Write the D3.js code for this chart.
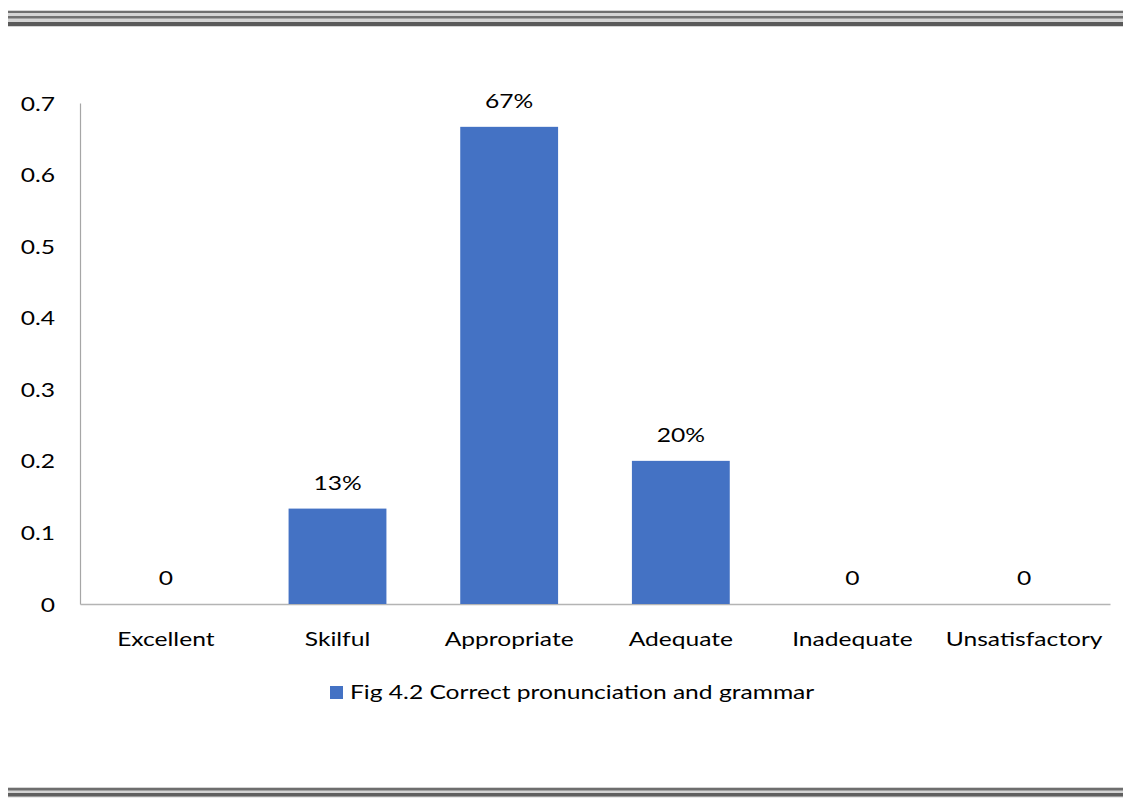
<!DOCTYPE html>
<html>
<head>
<meta charset="utf-8">
<script src="https://cdn.jsdelivr.net/npm/d3@7"></script>
<style>
  html, body { margin: 0; padding: 0; background: #fff; }
  svg { display: block; }
  text { font-family: Lato, "Open Sans", sans-serif; fill: #000; }
</style>
</head>
<body>
<svg id="chart" width="1123" height="799"></svg>
<script>
// Rating categories and the share of responses in each
const categories = ["Excellent", "Skilful", "Appropriate", "Adequate", "Inadequate", "Unsatisfactory"];
const shares = [0, 0.1333, 0.6667, 0.2, 0, 0];
const valueLabels = ["0", "13%", "67%", "20%", "0", "0"];
const yTicks = [0, 0.1, 0.2, 0.3, 0.4, 0.5, 0.6, 0.7];
const seriesName = "Fig 4.2 Correct pronunciation and grammar";

const svg = d3.select("#chart");
const W = 1123;
const FONT = "20px";
const STRETCH = 1.23; // horizontal widening of the text face

// Widen text horizontally about its own x anchor
function widen(sel) {
  sel.each(function () {
    const t = d3.select(this);
    const x0 = +t.attr("x") || 0;
    t.attr("transform", `translate(${x0},0) scale(${STRETCH},1) translate(${-x0},0)`);
  });
}

// Decorative page rules above and below the chart
function pageRule(y0, stripes) {
  const g = svg.append("g");
  const last = stripes[stripes.length - 1];
  g.append("rect").attr("x", 8).attr("y", y0).attr("width", W - 8)
    .attr("height", last[0] + last[1] - y0 + 1)
    .attr("fill", "#d4d4d4");
  stripes.forEach(([y, h, c]) => {
    g.append("rect").attr("x", 8).attr("y", y).attr("width", W - 8).attr("height", h).attr("fill", c);
  });
}
pageRule(10, [[11, 2, "#6e6e6e"], [16, 2.5, "#707070"], [22, 4, "#5a5a5a"]]);
pageRule(787, [[788, 2.5, "#6e6e6e"], [793, 3.5, "#606060"]]);

// Plot area
const margin = { left: 80, right: 1110, top: 103, bottom: 604 };
const x = d3.scaleBand().domain(categories).range([margin.left, margin.right])
  .paddingInner(0.43).paddingOuter(0.215);
const y = d3.scaleLinear().domain([0, 0.7]).range([margin.bottom, margin.top]);

// Y axis
const yAxis = svg.append("g").attr("transform", `translate(${margin.left},0)`)
  .call(d3.axisLeft(y).tickValues(yTicks).tickSize(0).tickPadding(25)
    .tickFormat(d => d === 0 ? "0" : d3.format(".1f")(d)));
yAxis.select(".domain").attr("stroke", "#a6a6a6").attr("stroke-width", 1.2);
yAxis.selectAll("text").style("font-size", FONT).attr("dy", "0.35em").call(widen);

// X axis
const xAxis = svg.append("g").attr("transform", `translate(0,${margin.bottom})`)
  .call(d3.axisBottom(x).tickSize(0).tickPadding(28));
xAxis.select(".domain").attr("stroke", "#b4b4b4").attr("stroke-width", 1.5);
xAxis.selectAll("text").style("font-size", FONT).call(widen);

// Bars
const data = categories.map((c, i) => ({ c, v: shares[i], label: valueLabels[i] }));
svg.append("g").selectAll("rect").data(data).join("rect")
  .attr("x", d => x(d.c))
  .attr("y", d => y(d.v))
  .attr("width", x.bandwidth())
  .attr("height", d => y(0) - y(d.v))
  .attr("fill", "#4472c4");

// Value labels above bars
svg.append("g").selectAll("text").data(data).join("text")
  .attr("x", d => x(d.c) + x.bandwidth() / 2)
  .attr("y", d => y(d.v) - 19)
  .attr("text-anchor", "middle")
  .style("font-size", FONT)
  .text(d => d.label)
  .call(widen);

// Legend
const legend = svg.append("g");
legend.append("rect").attr("x", 330).attr("y", 686).attr("width", 13).attr("height", 13).attr("fill", "#4472c4");
legend.append("text").attr("x", 350).attr("y", 699).style("font-size", FONT).text(seriesName).call(widen);
</script>
</body>
</html>
